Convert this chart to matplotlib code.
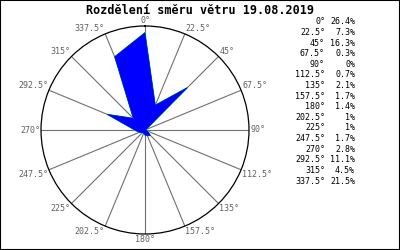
import numpy as np
import matplotlib.pyplot as plt

title = "Rozdělení směru větru 19.08.2019"
directions = [0, 22.5, 45, 67.5, 90, 112.5, 135, 157.5, 180, 202.5,
              225, 247.5, 270, 292.5, 315, 337.5]
dir_labels = ["0°", "22.5°", "45°", "67.5°", "90°", "112.5°", "135°", "157.5°",
              "180°", "202.5°", "225°", "247.5°", "270°", "292.5°", "315°", "337.5°"]
percent = [26.4, 7.3, 16.3, 0.3, 0, 0.7, 2.1, 1.7, 1.4, 1, 1, 1.7, 2.8, 11.1, 4.5, 21.5]
pct_labels = ["26.4%", "7.3%", "16.3%", "0.3%", "0%", "0.7%", "2.1%", "1.7%",
              "1.4%", "1%", "1%", "1.7%", "2.8%", "11.1%", "4.5%", "21.5%"]

rmax = 28.2
mono = "DejaVu Sans Mono"

fig = plt.figure(figsize=(4, 2.5), dpi=100)
fig.patch.set_facecolor("white")
fig.patches.append(plt.Rectangle((0, 0), 1, 1, transform=fig.transFigure,
                                 fill=False, edgecolor="black", lw=1.5))

ax = fig.add_axes([0.1025, 0.064, 0.52, 0.832], projection="polar")
ax.set_theta_zero_location("N")
ax.set_theta_direction(-1)
ax.set_ylim(0, rmax)
ax.grid(False)
ax.set_xticks([])
ax.set_yticks([])
ax.spines["polar"].set_color("black")
ax.spines["polar"].set_linewidth(0.9)

theta = np.deg2rad(directions)
for t in theta:
    ax.plot([t, t], [0, rmax], color="#707070", lw=0.8, zorder=1)

# outline in green, blue fill on top (only a little green shows through)
tt = np.append(theta, theta[0])
rr = np.append(percent, percent[0])
ax.plot(tt, rr, color="#00ff00", lw=0.8, zorder=2)
ax.fill(tt, rr, facecolor="#0000ff", edgecolor="#0000ff", lw=0.4, zorder=3)

for d, lab in zip(directions, dir_labels):
    s, c = np.sin(np.deg2rad(d)), np.cos(np.deg2rad(d))
    ha = "center" if abs(s) < 0.01 else ("left" if s > 0 else "right")
    va = "center" if abs(c) < 0.01 else ("bottom" if c > 0 else "top")
    ax.text(np.deg2rad(d), rmax * 1.01, lab, ha=ha, va=va, fontsize=6,
            family=mono, color="#606060", clip_on=False)

fig.text(0.5, 0.96, title, ha="center", va="center", fontsize=8.5,
         family=mono, weight="bold")

y0 = 1 - 22 / 250
dy = 10.6 / 250
for i, (lab, p) in enumerate(zip(dir_labels, pct_labels)):
    y = y0 - i * dy
    fig.text(325 / 400, y, lab, ha="right", va="center", fontsize=6, family=mono)
    fig.text(355 / 400, y, p, ha="right", va="center", fontsize=6, family=mono)

fig.savefig("out.png", dpi=100)
